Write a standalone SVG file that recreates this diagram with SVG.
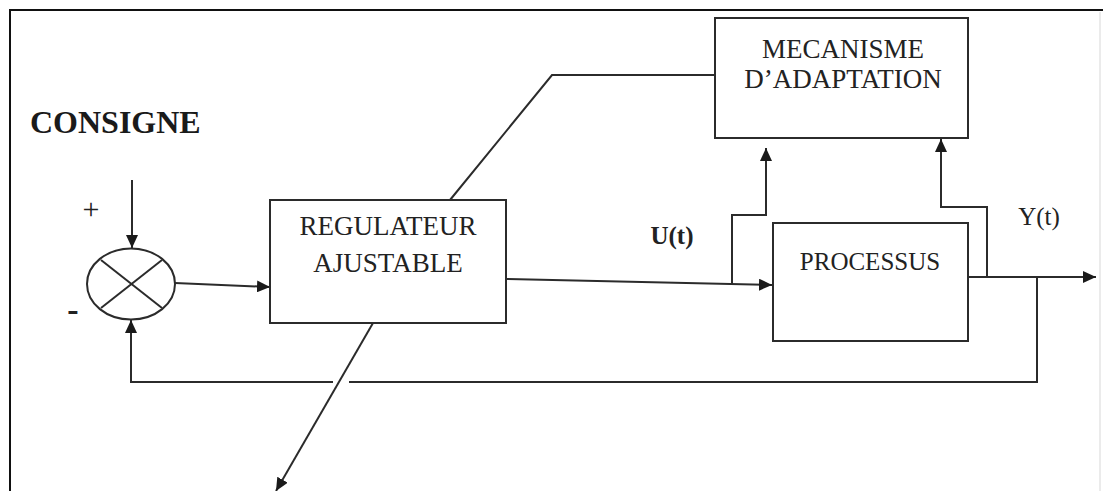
<svg xmlns="http://www.w3.org/2000/svg" width="1103" height="491" viewBox="0 0 1103 491">
  <style>
    .ln { fill: none; stroke: #2b2b2b; stroke-width: 2; }
    .box { fill: #ffffff; stroke: #2b2b2b; stroke-width: 2; }
    .lbl { font-family: "Liberation Serif", "Times New Roman", serif; fill: #222; text-anchor: middle; }
  </style>
  <defs>
    <marker id="arrow" markerUnits="userSpaceOnUse" markerWidth="14" markerHeight="12" refX="13" refY="6" orient="auto">
      <path d="M0,0 L13,6 L0,12 z" fill="#1a1a1a"/>
    </marker>
  </defs>

  <rect width="1103" height="491" fill="#ffffff"/>

  <!-- outer frame -->
  <g id="frame">
    <path d="M10,491 L10,10 L1103,10" fill="none" stroke="#111" stroke-width="2"/>
    <line x1="1100" y1="12" x2="1100" y2="491" stroke="#e4e4e4" stroke-width="1.5"/>
  </g>

  <!-- connectors -->
  <g id="connectors">
    <!-- setpoint into comparator -->
    <line class="ln" x1="132" y1="180" x2="132" y2="248" marker-end="url(#arrow)"/>
    <!-- comparator to controller -->
    <line class="ln" x1="175" y1="283" x2="270" y2="287" marker-end="url(#arrow)"/>
    <!-- controller to process -->
    <line class="ln" x1="506" y1="279" x2="772" y2="285" marker-end="url(#arrow)"/>
    <!-- U(t) tap to adaptation block -->
    <polyline class="ln" points="732,285 732,215 766,215 766,148" marker-end="url(#arrow)"/>
    <!-- output -->
    <line class="ln" x1="968" y1="277" x2="1096" y2="277" marker-end="url(#arrow)"/>
    <!-- Y(t) tap to adaptation block -->
    <polyline class="ln" points="987,277 987,207 941,207 941,139" marker-end="url(#arrow)"/>
    <!-- feedback loop (with line jump) -->
    <polyline class="ln" points="1037,277 1037,382 349,382"/>
    <polyline class="ln" points="333,382 131,382 131,320" marker-end="url(#arrow)"/>
    <!-- adaptation signal across the controller -->
    <polyline class="ln" points="715,75 552,75 450,200"/>
    <line class="ln" x1="373" y1="323" x2="276" y2="491" marker-end="url(#arrow)"/>
  </g>

  <!-- comparator -->
  <g id="comparator">
    <ellipse class="box" cx="131" cy="284" rx="44" ry="35.5"/>
    <line class="ln" x1="101" y1="260" x2="162" y2="308"/>
    <line class="ln" x1="162" y1="260" x2="101" y2="308"/>
    <text x="91" y="219" class="lbl" font-size="30">+</text>
    <text x="73" y="321" class="lbl" font-size="34" font-weight="bold">-</text>
  </g>

  <g id="consigne">
    <text x="30" y="133" font-family="'Liberation Serif', 'Times New Roman', serif" font-size="32" font-weight="bold" fill="#1a1a1a">CONSIGNE</text>
  </g>

  <g id="regulateur">
    <rect class="box" x="270" y="200" width="236" height="123"/>
    <text x="388" y="235" class="lbl" font-size="27">REGULATEUR</text>
    <text x="388" y="272" class="lbl" font-size="27">AJUSTABLE</text>
  </g>

  <g id="mecanisme">
    <rect class="box" x="715" y="18" width="253" height="120"/>
    <text x="843" y="58" class="lbl" font-size="27">MECANISME</text>
    <text x="843" y="88" class="lbl" font-size="27">D’ADAPTATION</text>
  </g>

  <g id="processus">
    <rect class="box" x="773" y="223" width="195" height="118"/>
    <text x="870" y="270" class="lbl" font-size="25">PROCESSUS</text>
  </g>

  <g id="labels">
    <text x="672" y="244" class="lbl" font-size="25" font-weight="bold">U(t)</text>
    <text x="1039" y="225" class="lbl" font-size="25">Y(t)</text>
  </g>
</svg>
